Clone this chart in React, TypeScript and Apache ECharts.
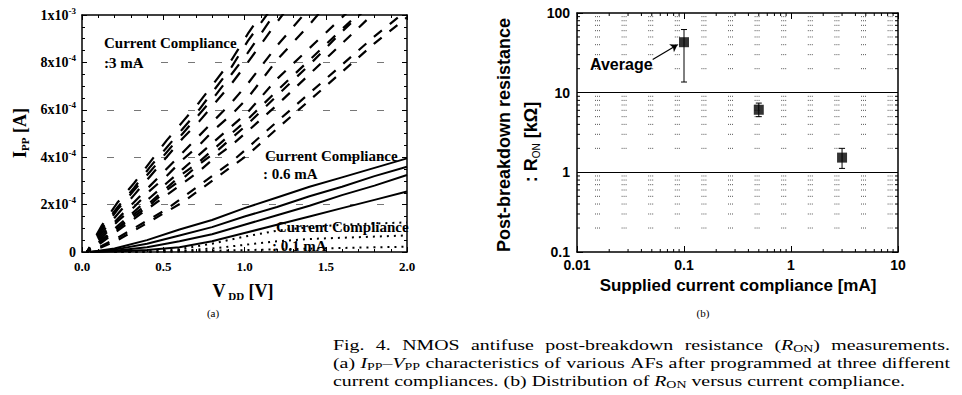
import React, { useEffect, useRef } from "react";
import * as echarts from "echarts";

// ---------- (a) I_PP (units of 1e-4 A) versus V_DD (V) ----------
const vdd3mA = [0.03, 0.12, 0.22, 0.32, 0.42, 0.52, 0.62, 0.72, 0.82, 0.92, 1.02, 1.2, 1.4, 1.6, 1.8, 2.0];
const ipp3mA = [
  [0, 1.1, 2.1, 2.9, 3.8, 4.7, 5.5, 6.3, 7.2, 8.1, 9.2, 11.0],
  [0, 1.0, 1.9, 2.7, 3.6, 4.4, 5.2, 6.0, 6.9, 7.8, 8.9, 10.6],
  [0, 0.9, 1.8, 2.6, 3.4, 4.2, 5.0, 5.8, 6.6, 7.5, 8.4, 10.2],
  [0, 0.8, 1.6, 2.4, 3.2, 4.0, 4.8, 5.5, 6.3, 7.1, 8.0, 9.7, 11.5],
  [0, 0.7, 1.4, 2.1, 2.8, 3.5, 4.2, 4.9, 5.6, 6.3, 7.1, 8.7, 10.3],
  [0, 0.6, 1.3, 1.9, 2.6, 3.2, 3.9, 4.5, 5.2, 5.8, 6.5, 8.1, 9.6, 11.2],
  [0, 0.5, 1.1, 1.7, 2.3, 2.9, 3.5, 4.1, 4.7, 5.3, 5.9, 7.3, 8.6, 9.9, 11.2],
  [0, 0.5, 1.0, 1.6, 2.1, 2.7, 3.3, 3.8, 4.4, 5.0, 5.6, 6.8, 8.1, 9.4, 10.7],
  [0, 0.45, 1.0, 1.5, 2.0, 2.6, 3.1, 3.7, 4.2, 4.8, 5.4, 6.6, 7.9, 9.3, 10.6],
  [0, 0.4, 0.9, 1.4, 1.9, 2.4, 2.9, 3.4, 4.0, 4.5, 5.1, 6.2, 7.5, 8.8, 10.1],
  [0, 0.25, 0.6, 1.0, 1.4, 1.8, 2.3, 2.8, 3.3, 3.8, 4.4, 5.5, 6.7, 7.9, 9.1, 10.2],
  [0, 0.2, 0.5, 0.9, 1.3, 1.7, 2.1, 2.6, 3.1, 3.6, 4.1, 5.2, 6.4, 7.6, 8.8, 9.9],
];
const vdd06mA = [0.05, 0.2, 0.4, 0.6, 0.8, 1.0, 1.2, 1.4, 1.6, 1.8, 2.0];
const ipp06mA = [
  [0, 0.15, 0.5, 0.95, 1.35, 1.85, 2.3, 2.75, 3.15, 3.55, 3.95],
  [0, 0.1, 0.35, 0.7, 1.05, 1.5, 1.9, 2.35, 2.75, 3.2, 3.6],
  [0, 0.05, 0.2, 0.45, 0.75, 1.15, 1.55, 1.95, 2.4, 2.8, 3.25],
  [0, 0.02, 0.08, 0.2, 0.45, 0.8, 1.15, 1.5, 1.85, 2.2, 2.55],
];
const vdd01mA = [0.2, 0.4, 0.6, 0.8, 1.0, 1.2, 1.4, 1.6, 1.8, 2.0];
const ipp01mA = [
  [0, 0.03, 0.12, 0.35, 0.65, 0.9, 1.05, 1.15, 1.2, 1.25],
  [0, 0.01, 0.05, 0.15, 0.3, 0.45, 0.55, 0.6, 0.65, 0.7],
  [0, 0, 0.02, 0.05, 0.08, 0.11, 0.14, 0.17, 0.2, 0.22],
];

// ---------- (b) R_ON (kΩ) versus supplied compliance (mA) ----------
const compliance_mA = [0.1, 0.5, 3];
const ronAvg_kOhm = [43, 6.1, 1.53];
const ronLow_kOhm = [13.6, 5.0, 1.12];
const ronHigh_kOhm = [62, 7.4, 2.0];

// minor (log) tick positions for (b)
const yMinorB = [0.2, 0.3, 0.4, 0.5, 0.6, 0.7, 0.8, 0.9, 2, 3, 4, 5, 6, 7, 8, 9, 20, 30, 40, 50, 60, 70, 80, 90];
const xMinorB = [0.02, 0.03, 0.04, 0.05, 0.06, 0.07, 0.08, 0.09, 0.2, 0.3, 0.4, 0.5, 0.6, 0.7, 0.8, 0.9, 2, 3, 4, 5, 6, 7, 8, 9];

const captionLines = [
  "Fig. 4. NMOS antifuse post-breakdown resistance ({i|R}{s|ON}) measurements.",
  "(a) {i|I}{s|PP}–{i|V}{s|PP} characteristics of various AFs after programmed at three different",
  "current compliances. (b) Distribution of {i|R}{s|ON} versus current compliance.",
];

const SERIF = "Liberation Serif";
const SANS = "Liberation Sans";

// plot (a) geometry (pixels per unit), used only for dash styling
const A_W = 325;
const A_H = 237;

function parseRuns(word: string) {
  const runs: { st: string; t: string }[] = [];
  const re = /\{(\w)\|([^}]*)\}|([^{]+)/g;
  let m: RegExpExecArray | null;
  while ((m = re.exec(word))) {
    if (m[3] !== undefined) runs.push({ st: "n", t: m[3] });
    else runs.push({ st: m[1], t: m[2] });
  }
  return runs;
}

export default function App() {
  const ref = useRef<HTMLDivElement>(null);
  useEffect(() => {
    if (!ref.current) return;
    const chart = echarts.init(ref.current, undefined, { renderer: "svg" });

    // ---------- caption layout (justified) ----------
    const capFS = 15;
    const subFS = 10.5;
    const fonts: Record<string, string> = {
      n: `${capFS}px "${SERIF}"`,
      i: `italic ${capFS}px "${SERIF}"`,
      s: `${subFS}px "${SERIF}"`,
    };
    const ctx = document.createElement("canvas").getContext("2d")!;
    const wOf = (runs: { st: string; t: string }[]) =>
      runs.reduce((a, r) => {
        ctx.font = fonts[r.st];
        return a + ctx.measureText(r.t).width;
      }, 0);
    ctx.font = fonts.n;
    const spaceW = ctx.measureText(" ").width;
    const capWords = captionLines.map((l) =>
      l.split(" ").map((w) => {
        const runs = parseRuns(w);
        return { runs, w: wOf(runs) };
      })
    );
    const nat3 = capWords[2].reduce((a, w) => a + w.w, 0) + spaceW * (capWords[2].length - 1);
    const sx = (905 - 333) / nat3;
    const capY = [345, 363, 381];
    const capRich = {
      n: { fontFamily: SERIF, fontSize: capFS, lineHeight: 18, fill: "#000" },
      i: { fontFamily: SERIF, fontSize: capFS, fontStyle: "italic", lineHeight: 18, fill: "#000" },
      s: { fontFamily: SERIF, fontSize: subFS, lineHeight: 10, verticalAlign: "bottom", fill: "#000" },
    };
    const graphics: any[] = [];
    capWords.forEach((words, li) => {
      const total = words.reduce((a, w) => a + w.w, 0) * sx;
      const gap = li < 2 ? (950 - 333 - total) / (words.length - 1) : spaceW * sx;
      let x = 333;
      words.forEach((w) => {
        graphics.push({
          type: "text",
          x,
          y: capY[li],
          scaleX: sx,
          silent: true,
          style: {
            text: w.runs.map((r) => `{${r.st}|${r.t}}`).join(""),
            rich: capRich,
            fontFamily: SERIF,
            fontSize: capFS,
            fill: "#000",
            align: "left",
            verticalAlign: "middle",
          },
        });
        x += w.w * sx + gap;
      });
    });

    // ---------- chart (a) annotations ----------
    const annA = (text: string, x: number, y: number) => ({
      type: "text",
      x,
      y,
      z: 50,
      silent: true,
      style: {
        text,
        fontFamily: SERIF,
        fontWeight: "bold",
        fontSize: 15,
        fill: "#000",
        align: "left",
        verticalAlign: "middle",
      },
    });
    graphics.push(annA("Current Compliance", 104, 43));
    graphics.push(annA(":3 mA", 104, 63));
    graphics.push(annA("Current Compliance", 265, 156));
    graphics.push(annA(": 0.6 mA", 263, 174));
    graphics.push(annA("Current Compliance", 276, 227));
    graphics.push(annA(": 0.1 mA", 272, 246));

    const titleRichSerif = {
      n: { fontFamily: SERIF, fontWeight: "bold", fontSize: 18, lineHeight: 20, fill: "#000" },
      s: { fontFamily: SERIF, fontWeight: "bold", fontSize: 11, lineHeight: 11, verticalAlign: "bottom", fill: "#000" },
    };
    graphics.push({
      type: "text",
      x: 243,
      y: 291,
      silent: true,
      style: { text: "{n|V}{s| DD}{n| [V]}", rich: titleRichSerif, align: "center", verticalAlign: "middle" },
    });
    graphics.push({
      type: "text",
      x: 20,
      y: 133,
      rotation: Math.PI / 2,
      silent: true,
      style: { text: "{n|I}{s|PP}{n| [A]}", rich: titleRichSerif, align: "center", verticalAlign: "middle" },
    });
    graphics.push({
      type: "text",
      x: 213,
      y: 313,
      silent: true,
      style: { text: "(a)", fontFamily: SERIF, fontSize: 11, fill: "#000", align: "center", verticalAlign: "middle" },
    });

    // ---------- chart (b) annotations ----------
    graphics.push({
      type: "text",
      x: 738,
      y: 285,
      silent: true,
      style: {
        text: "Supplied current compliance [mA]",
        fontFamily: SANS,
        fontWeight: "bold",
        fontSize: 17,
        fill: "#000",
        align: "center",
        verticalAlign: "middle",
      },
    });
    graphics.push({
      type: "text",
      x: 504,
      y: 135,
      rotation: Math.PI / 2,
      silent: true,
      style: {
        text: "Post-breakdown resistance",
        fontFamily: SANS,
        fontWeight: "bold",
        fontSize: 18,
        fill: "#000",
        align: "center",
        verticalAlign: "middle",
      },
    });
    graphics.push({
      type: "text",
      x: 531,
      y: 142,
      rotation: Math.PI / 2,
      silent: true,
      style: {
        text: "{b|: R}{s|ON}{b| [kΩ]}",
        rich: {
          b: { fontFamily: SANS, fontWeight: "bold", fontSize: 18, lineHeight: 20, fill: "#000" },
          s: { fontFamily: SANS, fontSize: 10, lineHeight: 10, verticalAlign: "bottom", fill: "#000" },
        },
        align: "center",
        verticalAlign: "middle",
      },
    });
    graphics.push({
      type: "text",
      x: 590,
      y: 64,
      silent: true,
      z: 50,
      style: {
        text: "Average",
        fontFamily: SANS,
        fontWeight: "bold",
        fontSize: 16,
        fill: "#000",
        align: "left",
        verticalAlign: "middle",
      },
    });
    graphics.push({
      type: "text",
      x: 703,
      y: 313,
      silent: true,
      style: { text: "(b)", fontFamily: SERIF, fontSize: 11, fill: "#000", align: "center", verticalAlign: "middle" },
    });

    // ---------- axes ----------
    const frameLine = { show: true, onZero: false, lineStyle: { color: "#000", width: 1.5 } };
    const tickIn = (len: number) => ({ show: true, inside: true, length: len, lineStyle: { color: "#000", width: 1 } });
    const labA = { color: "#000", fontFamily: SERIF, fontWeight: "bold" as const, fontSize: 13 };
    const labB = { color: "#000", fontFamily: SANS, fontWeight: "bold" as const, fontSize: 14 };
    const logFmt = (v: number) => String(Number(v.toPrecision(4)));

    const xA = {
      gridIndex: 0,
      type: "value",
      min: 0,
      max: 2,
      interval: 0.5,
      axisLine: frameLine,
      axisTick: tickIn(5),
      minorTick: { show: true, splitNumber: 5, length: 3, lineStyle: { color: "#000" } },
      splitLine: { show: false },
    };
    const yA = {
      gridIndex: 0,
      type: "value",
      min: 0,
      max: 10,
      interval: 2,
      axisLine: frameLine,
      axisTick: tickIn(5),
      minorTick: { show: true, splitNumber: 4, length: 3, lineStyle: { color: "#000" } },
    };
    const xB = {
      gridIndex: 1,
      type: "log",
      logBase: 10,
      min: 0.01,
      max: 10,
      axisLine: frameLine,
      axisTick: tickIn(6),
      splitLine: { show: false },
    };
    const yB = {
      gridIndex: 1,
      type: "log",
      logBase: 10,
      min: 0.1,
      max: 100,
      axisLine: frameLine,
      axisTick: tickIn(6),
    };

    const pxPerV = A_W / 2;
    const pxPerI = A_H / 10;
    const series: any[] = [];
    ipp3mA.forEach((arr) => {
      const n = arr.length;
      const v0 = vdd3mA[0];
      const v1 = vdd3mA[n - 1];
      const s = ((arr[n - 1] - arr[0]) * pxPerI) / ((v1 - v0) * pxPerV);
      const k = Math.sqrt(1 + s * s);
      const half = 0.05 * pxPerV * k; // dashes appear every 0.1 V column
      series.push({
        type: "line",
        xAxisIndex: 0,
        yAxisIndex: 0,
        data: arr.map((v, i) => [vdd3mA[i], v]),
        symbol: "none",
        silent: true,
        z: 3,
        lineStyle: { color: "#000", width: 2.2, type: [half, half], dashOffset: v0 * pxPerV * k },
      });
    });
    ipp06mA.forEach((arr) =>
      series.push({
        type: "line",
        xAxisIndex: 0,
        yAxisIndex: 0,
        data: arr.map((v, i) => [vdd06mA[i], v]),
        symbol: "none",
        silent: true,
        z: 3,
        lineStyle: { color: "#000", width: 2 },
      })
    );
    ipp01mA.forEach((arr) =>
      series.push({
        type: "line",
        xAxisIndex: 0,
        yAxisIndex: 0,
        data: arr.map((v, i) => [vdd01mA[i], v]),
        symbol: "none",
        silent: true,
        z: 3,
        lineStyle: { color: "#000", width: 2, type: [2, 5] },
      })
    );

    // (b) minor grid (short dotted dashes) + minor ticks
    series.push({
      type: "custom",
      xAxisIndex: 2,
      yAxisIndex: 2,
      silent: true,
      z: 1,
      data: [
        ...yMinorB.map((v) => [0.01, v, 0]),
        ...xMinorB.map((v) => [v, 0.1, 1]),
      ],
      renderItem: (params: any, api: any) => {
        const cs = params.coordSys;
        const kind = api.value(2);
        const black = { stroke: "#000", lineWidth: 1 };
        if (kind === 0) {
          const y = api.coord([0.01, api.value(1)])[1];
          const children: any[] = [
            { type: "line", shape: { x1: cs.x, y1: y, x2: cs.x + 3, y2: y }, style: black },
            { type: "line", shape: { x1: cs.x + cs.width - 3, y1: y, x2: cs.x + cs.width, y2: y }, style: black },
          ];
          for (let x = cs.x + 18; x < cs.x + cs.width - 6; x += 26.6) {
            children.push({
              type: "line",
              shape: { x1: x, y1: y, x2: x + 6, y2: y },
              style: { stroke: "#555", lineWidth: 1, lineDash: [1, 1] },
            });
          }
          return { type: "group", children };
        }
        const x = api.coord([api.value(0), 0.1])[0];
        return {
          type: "group",
          children: [
            { type: "line", shape: { x1: x, y1: cs.y + cs.height, x2: x, y2: cs.y + cs.height - 3 }, style: black },
            { type: "line", shape: { x1: x, y1: cs.y, x2: x, y2: cs.y + 3 }, style: black },
          ],
        };
      },
    });
    // (b) error bars
    series.push({
      type: "custom",
      xAxisIndex: 2,
      yAxisIndex: 2,
      silent: true,
      z: 4,
      encode: { x: 0, y: [1, 2] },
      data: compliance_mA.map((c, i) => [c, ronLow_kOhm[i], ronHigh_kOhm[i]]),
      renderItem: (params: any, api: any) => {
        const x = api.value(0);
        const pHi = api.coord([x, api.value(2)]);
        const pLo = api.coord([x, api.value(1)]);
        const w = 3;
        const st = { stroke: "#000", lineWidth: 1 };
        return {
          type: "group",
          children: [
            { type: "line", shape: { x1: pHi[0], y1: pHi[1], x2: pLo[0], y2: pLo[1] }, style: st },
            { type: "line", shape: { x1: pHi[0] - w, y1: pHi[1], x2: pHi[0] + w, y2: pHi[1] }, style: st },
            { type: "line", shape: { x1: pLo[0] - w, y1: pLo[1], x2: pLo[0] + w, y2: pLo[1] }, style: st },
          ],
        };
      },
    });
    // (b) averages
    series.push({
      type: "scatter",
      xAxisIndex: 2,
      yAxisIndex: 2,
      silent: true,
      z: 5,
      symbol: "rect",
      symbolSize: 10,
      itemStyle: { color: "#000" },
      data: compliance_mA.map((c, i) => [c, ronAvg_kOhm[i]]),
      markLine: {
        silent: true,
        symbol: ["none", "arrow"],
        symbolSize: 7,
        label: { show: false },
        lineStyle: { color: "#000", width: 1.2, type: "solid" },
        data: [[{ coord: [0.051, 26] }, { coord: [0.087, 40] }]],
      },
    });

    chart.setOption({
      animation: false,
      backgroundColor: "#fff",
      grid: [
        { left: 82, top: 15, width: A_W, height: A_H },
        { left: 577, top: 13, width: 321, height: 239 },
      ],
      xAxis: [
        { ...xA, position: "bottom", axisLabel: { ...labA, margin: 8, formatter: (v: number) => v.toFixed(1) } },
        { ...xA, position: "top", axisLabel: { show: false } },
        { ...xB, position: "bottom", axisLabel: { ...labB, margin: 6, formatter: logFmt } },
        { ...xB, position: "top", axisLabel: { show: false } },
      ],
      yAxis: [
        {
          ...yA,
          position: "left",
          splitLine: {
            show: true,
            showMinLine: false,
            showMaxLine: false,
            lineStyle: { color: "#777", width: 1, type: [7, 20], dashOffset: 2 },
          },
          axisLabel: {
            margin: 6,
            formatter: (v: number) =>
              v === 0 ? "{m|0}" : v === 10 ? "{m|1x10}{s|-3}" : `{m|${v}x10}{s|-4}`,
            rich: {
              m: { color: "#000", fontFamily: SERIF, fontWeight: "bold", fontSize: 14, lineHeight: 18 },
              s: { color: "#000", fontFamily: SERIF, fontWeight: "bold", fontSize: 9, lineHeight: 8, verticalAlign: "top" },
            },
          },
        },
        { ...yA, position: "right", splitLine: { show: false }, axisLabel: { show: false } },
        {
          ...yB,
          position: "left",
          splitLine: {
            show: true,
            showMinLine: false,
            showMaxLine: false,
            lineStyle: { color: "#000", width: 1, type: "solid" },
          },
          axisLabel: { ...labB, margin: 7, formatter: logFmt },
        },
        { ...yB, position: "right", splitLine: { show: false }, axisLabel: { show: false } },
      ],
      series,
      graphic: graphics,
    });
    return () => chart.dispose();
  }, []);
  return (
    <div
      ref={ref}
      style={{ position: "absolute", left: 0, top: 0, width: 962, height: 395, background: "#fff" }}
    />
  );
}
